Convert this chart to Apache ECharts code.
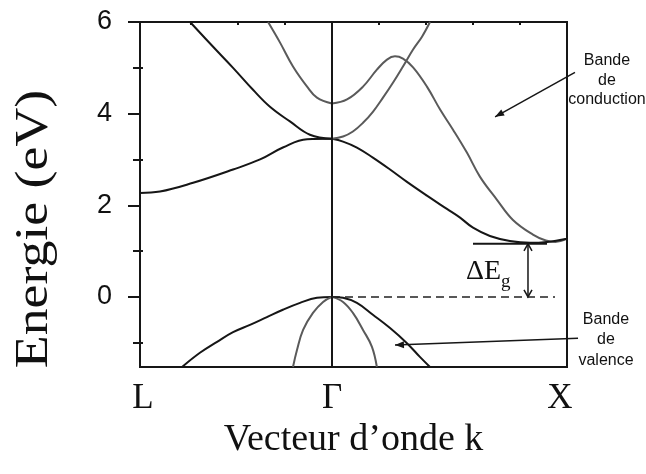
<!DOCTYPE html>
<html>
<head>
<meta charset="utf-8">
<script src="https://cdn.jsdelivr.net/npm/echarts@6/dist/echarts.min.js"></script>
<style>html,body{margin:0;padding:0;background:#fff;}#c{width:646px;height:474px;}</style>
</head>
<body>
<div id="c"></div>
<script>
// k-path positions (Γ–X = 1) and labels
const kPoints = [-0.817, 0, 1];
const kLabels = ['L', 'Γ', 'X'];
const yLabelValues = [0, 2, 4, 6];
const yMinorTicks = [-1, 1, 3, 5];
const topTicks = [-0.6, -0.4, -0.2, 0.2, 0.4, 0.6, 0.8];
const yMin = -1.53, yMax = 6;

// conduction bands, L side
const condL1 = [[-0.817,2.27],[-0.732,2.3],[-0.591,2.49],[-0.421,2.78],[-0.306,3.0],[-0.209,3.26],[-0.106,3.44],[0,3.45]];
const condL2 = [[-0.604,6.0],[-0.506,5.46],[-0.421,5.0],[-0.336,4.52],[-0.264,4.15],[-0.179,3.83],[-0.094,3.54],[0,3.45]];
const condL3 = [[-0.272,6.0],[-0.221,5.55],[-0.166,5.03],[-0.106,4.59],[-0.064,4.35],[0,4.22]];
// conduction bands, X side
const condX1 = [[0,4.22],[0.064,4.31],[0.132,4.59],[0.191,4.96],[0.234,5.18],[0.268,5.25],[0.302,5.2],[0.345,5.01],[0.404,4.59],[0.46,4.09],[0.515,3.65],[0.574,3.15],[0.63,2.62],[0.702,2.12],[0.77,1.68],[0.855,1.36],[0.91,1.23],[0.95,1.2],[1,1.27]];
const condX2 = [[0,3.45],[0.047,3.39],[0.106,3.26],[0.174,3.04],[0.247,2.78],[0.319,2.51],[0.404,2.21],[0.489,1.92],[0.545,1.73],[0.6,1.51],[0.672,1.33],[0.757,1.22],[0.843,1.18],[0.915,1.2],[1,1.27]];
const condX3 = [[0,3.45],[0.047,3.5],[0.089,3.61],[0.132,3.8],[0.174,4.04],[0.217,4.35],[0.26,4.68],[0.302,5.03],[0.345,5.4],[0.383,5.68],[0.417,6.0]];
// valence bands
const valL1 = [[-0.638,-1.53],[-0.562,-1.22],[-0.489,-0.98],[-0.421,-0.77],[-0.349,-0.61],[-0.277,-0.44],[-0.209,-0.28],[-0.136,-0.13],[-0.064,-0.02],[0,0]];
const valL2 = [[-0.166,-1.53],[-0.149,-1.16],[-0.123,-0.72],[-0.081,-0.35],[-0.038,-0.11],[0,0]];
const valX1 = [[0,0],[0.047,-0.02],[0.106,-0.13],[0.174,-0.39],[0.247,-0.68],[0.319,-1.01],[0.374,-1.31],[0.417,-1.53]];
const valX2 = [[0,0],[0.047,-0.11],[0.089,-0.35],[0.132,-0.72],[0.17,-1.09],[0.191,-1.53]];

// annotation values
const gapLevel = 1.16;
const gapLineK = [0.60, 0.915];
const gapArrowK = 0.834;
const zeroLineEndK = 0.949;
const condArrow = [[1.034, 4.90], [0.694, 3.93]];
const valArrow = [[1.047, -0.90], [0.268, -1.05]];

const BLACK = '#161616', GREY = '#5a5a5a';
const serif = 'Liberation Serif', sans = 'Liberation Sans';

function band(data, color) {
  return { type: 'line', data: data, showSymbol: false, smooth: 0.4, silent: true,
    lineStyle: { color: color, width: 2 }, xAxisIndex: 0, yAxisIndex: 0 };
}

const chart = echarts.init(document.getElementById('c'), null, { renderer: 'canvas' });
const series = [
  band(condL1, BLACK), band(condL2, BLACK), band(condL3, GREY),
  band(condX1, GREY), band(condX2, BLACK), band(condX3, GREY),
  band(valL1, BLACK), band(valL2, GREY), band(valX1, BLACK), band(valX2, GREY)
];
series[0].markLine = {
  silent: true, symbol: 'none', label: { show: false },
  data: [
    { xAxis: 0, lineStyle: { color: BLACK, width: 2, type: 'solid' } },
    [ { coord: [0, 0], lineStyle: { color: '#222', width: 1.5, type: [8, 5] } }, { coord: [zeroLineEndK, 0] } ]
  ]
};

function nearestLabel(v) {
  let best = 0;
  for (let i = 1; i < kPoints.length; i++) if (Math.abs(kPoints[i] - v) < Math.abs(kPoints[best] - v)) best = i;
  return best;
}

chart.setOption({
  animation: false,
  grid: { left: 140, right: 79, top: 22, bottom: 107, show: true, borderColor: BLACK, borderWidth: 2, backgroundColor: 'transparent', outerBoundsMode: 'none' },
  xAxis: [
    { type: 'value', position: 'bottom', min: kPoints[0], max: kPoints[2],
      axisLine: { show: false, onZero: false }, axisTick: { show: false }, splitLine: { show: false },
      axisLabel: { customValues: kPoints, margin: 14, fontFamily: serif, fontSize: 35, color: '#111',
        formatter: function (v) { const i = nearestLabel(v); return '{k' + i + '|' + kLabels[i] + '}'; },
        rich: { k0: { fontFamily: serif, fontSize: 35, color: '#111', padding: [0, 0, 0, 6] },
                k1: { fontFamily: serif, fontSize: 35, color: '#111' },
                k2: { fontFamily: serif, fontSize: 35, color: '#111', padding: [0, 14, 0, 0] } } },
      name: 'Vecteur d’onde k', nameLocation: 'middle', nameGap: 44,
      nameTextStyle: { fontFamily: serif, fontSize: 38, color: '#111' } },
    { type: 'value', position: 'top', min: kPoints[0], max: kPoints[2],
      axisLine: { show: false, onZero: false }, splitLine: { show: false }, axisLabel: { show: false },
      axisTick: { show: true, inside: true, length: 3, customValues: topTicks, lineStyle: { color: BLACK, width: 2 } } }
  ],
  yAxis: [
    { type: 'value', position: 'left', min: yMin, max: yMax,
      axisLine: { show: false, onZero: false }, splitLine: { show: false },
      axisTick: { show: true, length: 12, customValues: yLabelValues, lineStyle: { color: BLACK, width: 2 } },
      axisLabel: { customValues: yLabelValues, margin: 28, fontFamily: sans, fontSize: 27, color: '#111' } },
    { type: 'value', position: 'left', offset: -3, min: yMin, max: yMax,
      axisLine: { show: false, onZero: false }, splitLine: { show: false }, axisLabel: { show: false },
      axisTick: { show: true, length: 10, customValues: yMinorTicks, lineStyle: { color: BLACK, width: 2 } } }
  ],
  series: series
});

function px(p) { return chart.convertToPixel({ xAxisIndex: 0, yAxisIndex: 0 }, p); }
function head(tip, from, len, hw) {
  const dx = tip[0] - from[0], dy = tip[1] - from[1];
  const d = Math.sqrt(dx * dx + dy * dy), ux = dx / d, uy = dy / d;
  const bx = tip[0] - ux * len, by = tip[1] - uy * len;
  return [[bx - uy * hw, by + ux * hw], tip, [bx + uy * hw, by - ux * hw]];
}

const g = [];
// Y axis title
g.push({ type: 'text', x: 35, y: 229, rotation: Math.PI / 2, scaleX: 1.17, silent: true,
  style: { text: 'Energie (eV)', font: '46px "Liberation Serif"', fill: '#111', align: 'center', verticalAlign: 'middle' } });
// ΔEg annotation
const gl0 = px([gapLineK[0], gapLevel]), gl1 = px([gapLineK[1], gapLevel]);
g.push({ type: 'line', silent: true, shape: { x1: gl0[0], y1: gl0[1], x2: gl1[0], y2: gl1[1] }, style: { stroke: BLACK, lineWidth: 2 } });
const ga0 = px([gapArrowK, gapLevel]), ga1 = px([gapArrowK, 0]);
g.push({ type: 'line', silent: true, shape: { x1: ga0[0], y1: ga0[1], x2: ga1[0], y2: ga1[1] }, style: { stroke: BLACK, lineWidth: 1.5 } });
g.push({ type: 'polyline', silent: true, shape: { points: head(ga0, ga1, 7, 4) }, style: { stroke: BLACK, lineWidth: 1.5, fill: null } });
g.push({ type: 'polyline', silent: true, shape: { points: head(ga1, ga0, 7, 4) }, style: { stroke: BLACK, lineWidth: 1.5, fill: null } });
g.push({ type: 'text', x: 466, y: 272, silent: true, style: { text: 'ΔE', font: '28px "Liberation Serif"', fill: '#111', align: 'left', verticalAlign: 'middle' } });
g.push({ type: 'text', x: 501, y: 282, silent: true, style: { text: 'g', font: '19px "Liberation Serif"', fill: '#111', align: 'left', verticalAlign: 'middle' } });
// Band labels with arrows
[[condArrow, 'Bande\nde\nconduction', 607, 80.5, 19.5], [valArrow, 'Bande\nde\nvalence', 606, 340, 20.5]].forEach(function (a) {
  const p0 = px(a[0][0]), p1 = px(a[0][1]);
  g.push({ type: 'line', silent: true, shape: { x1: p0[0], y1: p0[1], x2: p1[0], y2: p1[1] }, style: { stroke: BLACK, lineWidth: 1.5 } });
  g.push({ type: 'polygon', silent: true, shape: { points: head(p1, p0, 9, 3.5) }, style: { fill: BLACK } });
  g.push({ type: 'text', x: a[2], y: a[3], silent: true,
    style: { text: a[1], font: '16px "Liberation Sans"', lineHeight: a[4], fill: '#111', align: 'center', verticalAlign: 'middle' } });
});
chart.setOption({ graphic: g });
</script>
</body>
</html>
